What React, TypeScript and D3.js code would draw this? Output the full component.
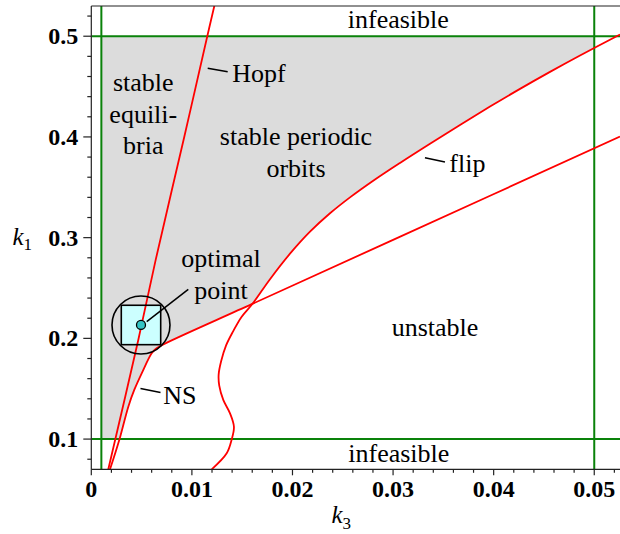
import React from 'react';
import * as d3 from 'd3';

type P = [number, number];

// Bifurcation curves in (k3, k1)
const hopf: P[] = [
  [0.00169, 0.07], [0.00467, 0.1984], [0.0064, 0.2779], [0.00924, 0.4], [0.01153, 0.5], [0.01223, 0.53],
];
const ns: P[] = [
  [0.00186, 0.07], [0.00278, 0.0991], [0.00368, 0.1322], [0.00427, 0.1488], [0.00501, 0.1653],
  [0.006, 0.1852], [0.0064, 0.1895], [0.007, 0.1932], [0.016, 0.2342], [0.03, 0.2978], [0.05256, 0.4003],
];
const flip: P[] = [
  [0.01197, 0.07], [0.01346, 0.0859], [0.01396, 0.0998], [0.01418, 0.1123], [0.01379, 0.1256],
  [0.01312, 0.1389], [0.01272, 0.1530], [0.01266, 0.1640], [0.01290, 0.1770], [0.01340, 0.1930],
  [0.01410, 0.2070], [0.01495, 0.2215], [0.01601, 0.2341], [0.017765, 0.25875], [0.019754, 0.28406],
  [0.021742, 0.30591], [0.02373, 0.32418], [0.025718, 0.33997], [0.028204, 0.35774], [0.030689, 0.37422],
  [0.033672, 0.39328], [0.036654, 0.41195], [0.039636, 0.43012], [0.042619, 0.44769], [0.045601, 0.46457],
  [0.048584, 0.48085], [0.05256, 0.5017],
];
const crossing: P = [0.01601, 0.2341];

// feasibility limits
const k3Limits = [0.001, 0.05];
const k1Limits = [0.1, 0.5];

const optimal: P = [0.00494, 0.2133];

const xMajor = [0, 0.01, 0.02, 0.03, 0.04, 0.05];
const xMajorLabels = ['0', '0.01', '0.02', '0.03', '0.04', '0.05'];
const yMajor = [0.1, 0.2, 0.3, 0.4, 0.5];
const yMajorLabels = ['0.1', '0.2', '0.3', '0.4', '0.5'];

// region / annotation labels
const labels: { lines: string[]; at: P; anchor: string }[] = [
  { lines: ['infeasible'], at: [0.03052, 0.5082], anchor: 'middle' },
  { lines: ['infeasible'], at: [0.03057, 0.0777], anchor: 'middle' },
  { lines: ['unstable'], at: [0.03417, 0.2023], anchor: 'middle' },
  { lines: ['stable', 'equili-', 'bria'], at: [0.00517, 0.4459], anchor: 'middle' },
  { lines: ['stable periodic', 'orbits'], at: [0.02035, 0.3915], anchor: 'middle' },
  { lines: ['optimal', 'point'], at: [0.01289, 0.2709], anchor: 'middle' },
  { lines: ['Hopf'], at: [0.01402, 0.4548], anchor: 'start' },
  { lines: ['flip'], at: [0.03559, 0.3655], anchor: 'start' },
  { lines: ['NS'], at: [0.00716, 0.1348], anchor: 'start' },
];
const leaders: [P, P][] = [
  [[0.01157, 0.4682], [0.01356, 0.4648]],
  [[0.03317, 0.3794], [0.03516, 0.3751]],
  [[0.00489, 0.1502], [0.00688, 0.1463]],
  [[0.00551, 0.2166], [0.00964, 0.2487]],
];

export default function App() {
  const W = 620, H = 534;
  const x = d3.scaleLinear().domain([0, 0.05256]).range([91.3, 620]);
  const y = d3.scaleLinear().domain([0.07, 0.53]).range([469.3, 6]);
  const line = d3.line<P>().x(d => x(d[0])).y(d => y(d[1])).curve(d3.curveCatmullRom.alpha(0.5));

  const nsPart = ns.filter(p => p[0] < crossing[0]).concat([crossing]);
  const flipPart = [crossing as P].concat(flip.filter(p => p[1] > crossing[1]));
  const grayPath =
    (line(nsPart) || '') +
    (line(flipPart) || '').replace(/^M/, 'L') +
    `L${x(0)},${y(0.53)}L${x(0)},${y(0.07)}Z`;

  const xMinor = d3.range(0, 0.0525, 0.002).filter(v => !xMajor.some(m => Math.abs(m - v) < 1e-9));
  const yMinor = d3.range(0.08, 0.53, 0.02).filter(v => !yMajor.some(m => Math.abs(m - v) < 1e-9));

  const serif = "'Liberation Serif', 'Times New Roman', serif";
  const green = '#0a820a';
  const axisColor = '#222';
  const x0 = x(0), yb = y(0.07), yt = y(0.53), xr = x(0.05256);
  const ox = x(optimal[0]), oy = y(optimal[1]);

  return (
    <svg width={W} height={H} style={{ position: 'fixed', left: 0, top: 0, background: '#fff', fontFamily: serif }}>
      <defs>
        <clipPath id="feas">
          <rect x={x(k3Limits[0])} y={y(k1Limits[1])} width={x(k3Limits[1]) - x(k3Limits[0])}
            height={y(k1Limits[0]) - y(k1Limits[1])} />
        </clipPath>
        <clipPath id="plot">
          <rect x={x0} y={yt} width={xr - x0} height={yb - yt} />
        </clipPath>
      </defs>
      <path d={grayPath} fill="#dcdcdc" clipPath="url(#feas)" />
      {/* optimal square fill */}
      <rect x={ox - 19.7} y={oy - 19.7} width={39.4} height={39.4} fill="#ccffff" />
      {/* feasibility boundaries */}
      <g stroke={green} strokeWidth={2} clipPath="url(#plot)">
        {k3Limits.map((v, i) => <line key={'v' + i} x1={x(v)} x2={x(v)} y1={yt} y2={yb} />)}
        {k1Limits.map((v, i) => <line key={'h' + i} x1={x0} x2={xr} y1={y(v)} y2={y(v)} />)}
      </g>
      {/* bifurcation curves */}
      <g fill="none" stroke="#ff0000" strokeWidth={1.8} clipPath="url(#plot)">
        <path d={line(hopf) || ''} />
        <path d={line(ns) || ''} />
        <path d={line(flip) || ''} />
      </g>
      {/* optimal point markers */}
      <rect x={ox - 19.7} y={oy - 19.7} width={39.4} height={39.4} fill="none" stroke="#000" strokeWidth={1.6} />
      <circle cx={ox} cy={oy} r={29} fill="none" stroke="#000" strokeWidth={1.6} />
      <circle cx={ox} cy={oy} r={4.5} fill="#33c4c4" stroke="#000" strokeWidth={1.3} />
      {/* leaders */}
      <g stroke="#000" strokeWidth={1.5}>
        {leaders.map((l, i) => (
          <line key={i} x1={x(l[0][0])} y1={y(l[0][1])} x2={x(l[1][0])} y2={y(l[1][1])} />
        ))}
      </g>
      {/* labels */}
      <g fontSize={26} fill="#000">
        {labels.map((l, i) => (
          <text key={i} x={x(l.at[0])} y={y(l.at[1])} textAnchor={l.anchor}>
            {l.lines.map((t, j) => (
              <tspan key={j} x={x(l.at[0])} dy={j === 0 ? 0 : 31.8}>{t}</tspan>
            ))}
          </text>
        ))}
      </g>
      {/* axes */}
      <g stroke={axisColor} strokeWidth={1.2}>
        <line x1={x0} x2={xr} y1={yb} y2={yb} />
        <line x1={x0} x2={xr} y1={yt} y2={yt} />
        <line x1={x0} x2={x0} y1={yt} y2={yb} />
        {xMajor.map((v, i) => <line key={'xM' + i} x1={x(v)} x2={x(v)} y1={yb} y2={yb + 6} />)}
        {xMinor.map((v, i) => <line key={'xm' + i} x1={x(v)} x2={x(v)} y1={yb} y2={yb + 3.5} />)}
        {yMajor.map((v, i) => <line key={'yM' + i} x1={x0 - 8} x2={x0} y1={y(v)} y2={y(v)} />)}
        {yMinor.map((v, i) => <line key={'ym' + i} x1={x0 - 4} x2={x0} y1={y(v)} y2={y(v)} />)}
      </g>
      <g fontSize={24} fontWeight="bold" fill="#000">
        {xMajor.map((v, i) => (
          <text key={'xl' + i} x={x(v)} y={yb + 28} textAnchor="middle">{xMajorLabels[i]}</text>
        ))}
        {yMajor.map((v, i) => (
          <text key={'yl' + i} x={x0 - 13} y={y(v) + 8} textAnchor="end">{yMajorLabels[i]}</text>
        ))}
      </g>
      <text x={12.5} y={245} fontSize={25} fontStyle="italic">k<tspan fontStyle="normal" fontSize={17} dy={5}>1</tspan></text>
      <text x={331.5} y={523} fontSize={25} fontStyle="italic">k<tspan fontStyle="normal" fontSize={17} dy={6}>3</tspan></text>
    </svg>
  );
}
